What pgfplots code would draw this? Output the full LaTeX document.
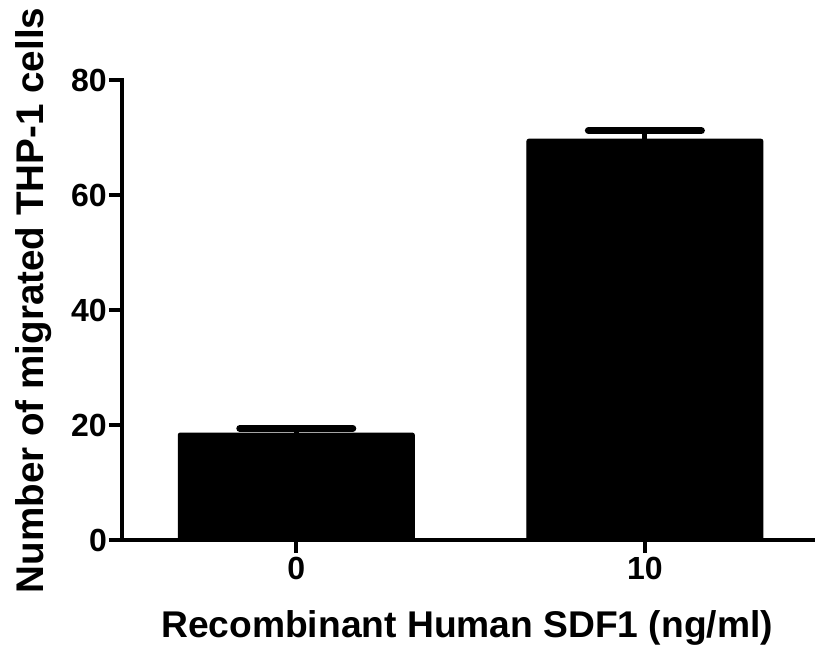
\documentclass[border=0pt]{standalone}
\usepackage{pgfplots}
\pgfplotsset{compat=1.18}
\usepackage{fontspec}
\setmainfont{Liberation Sans}
\begin{document}
\begin{tikzpicture}
\useasboundingbox (-122pt,-106pt) rectangle (693pt,540pt);
\begin{axis}[
  scale only axis,
  width=693pt, height=460pt,
  xmin=-0.5, xmax=1.488,
  ymin=0, ymax=80,
  axis x line=bottom, axis y line=left,
  axis line style={-, line width=4pt, line cap=rect},
  tick align=outside,
  major tick length=13pt,
  tick style={line width=4pt, black},
  xtick={0,1}, xticklabels={0,10},
  ytick={0,20,40,60,80},
  /pgf/number format/assume math mode=true,
  tick label style={font=\fontsize{32}{36}\selectfont\bfseries},
  yticklabel style={inner sep=2pt},
  xticklabel style={inner sep=4pt},
  every axis y label/.style={at={(axis description cs:-0.1126,0.5207)}, rotate=90, anchor=base, font=\fontsize{38.6}{42}\selectfont\bfseries},
  every axis x label/.style={at={(axis description cs:0.498,-0.2109)}, anchor=base, font=\fontsize{37.2}{40}\selectfont\bfseries},
  xlabel={Recombinant Human SDF1 (ng/ml)},
  ylabel={Number of migrated THP-1 cells},
  ybar, bar width=236pt,
  clip=false,
]
\addplot[fill=black, draw=black, line width=1pt, rounded corners=2pt,
  error bars/.cd, y dir=plus, y explicit,
  error bar style={line width=5pt, black},
  error mark options={line width=7pt, line cap=round, mark size=56.5pt, black, rotate=90},
] coordinates {(0,18.6) +- (0,0.8) (1,69.7) +- (0,1.5)};
\end{axis}
\end{tikzpicture}
\end{document}
